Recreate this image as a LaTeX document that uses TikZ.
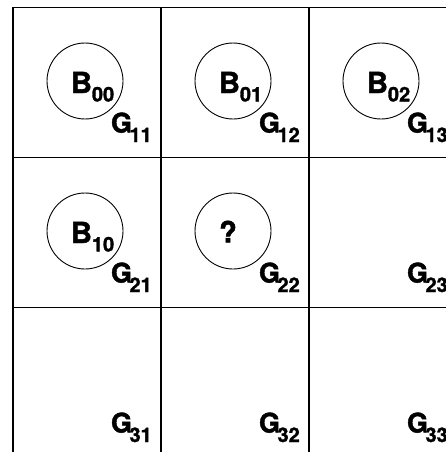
\documentclass[tikz,border=0pt]{standalone}
\usepackage{fontspec}
\setmainfont{TeX Gyre Heros}
\newfontfamily\heavy{TeX Gyre Heros}[UprightFont=*-Bold, FakeBold=1.6]
\newcommand{\Blab}[1]{{\fontsize{29}{29}\selectfont\heavy B}{\raisebox{-8.4pt}{\fontsize{20}{20}\selectfont\heavy #1}}}
\newcommand{\Glab}[1]{{\fontsize{27}{27}\selectfont\heavy G}\kern-2.5pt{\raisebox{-9.5pt}{\fontsize{20}{20}\selectfont\heavy #1}}}
\tikzset{
  gridline/.style={line width=1.3pt},
  cellcirc/.style={circle, draw, line width=0.9pt, minimum size=76pt, inner sep=0pt},
  lab/.style={anchor=base west, inner sep=0pt, outer sep=0pt},
}
\begin{document}
\begin{tikzpicture}[x=1pt,y=-1pt]
\useasboundingbox (0,0) rectangle (446,452);
\fill[white] (0,0) rectangle (446,452);
% grid
\foreach \i in {0,1,2,3} {
  \draw[gridline] (13+148*\i,7.5) -- (13+148*\i,457.5);
  \draw[gridline] (13,7.5+150*\i) -- (457,7.5+150*\i);
}
% circles with labels
\foreach \r/\c/\t in {0/0/00,0/1/01,0/2/02,1/0/10} {
  \node[cellcirc] (c\r\c) at (13+148*\c+72, 7.5+150*\r+73.5) {};
  \node[lab] (b\r\c) at (13+148*\c+58, 7.5+150*\r+85.5) {\Blab{\t}};
}
\node[cellcirc] (c11) at (13+148+72, 7.5+150+73.5) {};
\node[inner sep=0pt] (q11) at (13+148+67, 7.5+150+74) {\fontsize{29}{29}\selectfont\heavy ?};
% G labels
\foreach \r in {0,1,2} {
  \foreach \c in {0,1,2} {
    \pgfmathtruncatemacro{\rr}{\r+1}
    \pgfmathtruncatemacro{\cc}{\c+1}
    \node[lab] (g\rr\cc) at (13+148*\c+98, 7.5+150*\r+125) {\Glab{\rr\cc}};
  }
}
\end{tikzpicture}
\end{document}
